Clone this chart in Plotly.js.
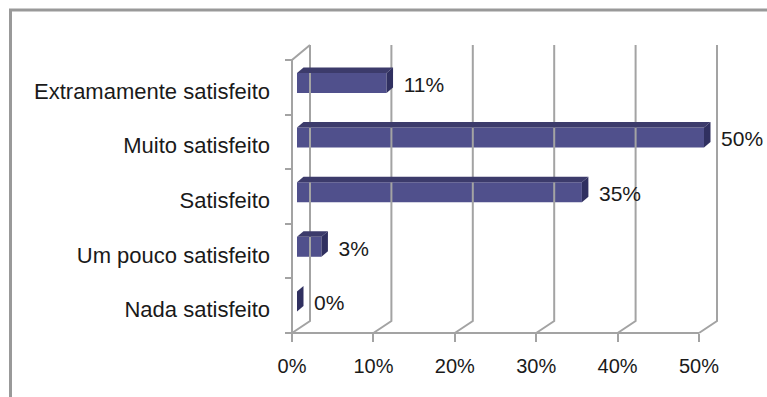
<!DOCTYPE html>
<html><head><meta charset="utf-8">
<script src="https://cdn.plot.ly/plotly-3.0.1.min.js"></script>
<style>html,body{margin:0;padding:0;background:#fff}#chart{width:767px;height:397px}</style>
</head><body><div id="chart"></div>
<script>
// Satisfaction levels, bottom to top, and their shares (%)
const categories = ['Nada satisfeito', 'Um pouco satisfeito', 'Satisfeito', 'Muito satisfeito', 'Extramamente satisfeito'];
const values = [0, 3, 35, 50, 11];
const tickValues = [0, 10, 20, 30, 40, 50];

// Layout geometry (pixels) used to set up the axes and the pseudo-3D offsets
const W = 767, H = 397;
const X0 = 292, PX_PER_PCT = 8.14;   // front floor origin and x scale
const Y0 = 333, BAND = 54.6;         // front floor baseline and category band height
const FONT = '"Liberation Sans", Arial, sans-serif';
const GRID = '#a3a3a3';
const INK = '#1a1a1a';

const wallDx = 18 / PX_PER_PCT, wallDyTop = 15 / BAND, wallDyBot = 12 / BAND;
const barShift = 5 / PX_PER_PCT;
const barLow = 0.396, barHigh = 0.762;
const depthDx = 6.5 / PX_PER_PCT, depthDy = 5.5 / BAND;
const nCat = categories.length;
const xMax = tickValues[tickValues.length - 1];

const traces = [];

// back wall gridlines running into the floor
const gx = [], gy = [];
tickValues.forEach(v => {
  gx.push(v, v + wallDx, v + wallDx, null);
  gy.push(0, wallDyBot, nCat + wallDyTop, null);
});
// front floor edge and front edge of the side wall
gx.push(0, xMax, null, 0, 0, wallDx);
gy.push(0, 0, null, 0, nCat, nCat + wallDyTop);
traces.push({type: 'scatter', mode: 'lines', x: gx, y: gy, line: {color: GRID, width: 2}, hoverinfo: 'skip'});

// front faces of the bars
traces.push({
  type: 'bar', orientation: 'h',
  x: values,
  y: categories.map((_, i) => i + (barLow + barHigh) / 2),
  width: (barHigh - barLow),
  base: barShift,
  marker: {color: '#50508c', line: {width: 0}},
  hoverinfo: 'skip'
});

// top and side faces
values.forEach((v, i) => {
  const lo = i + barLow, hi = i + barHigh;
  const x0 = barShift, x1 = barShift + v;
  if (v > 0) {
    traces.push({type: 'scatter', mode: 'lines', fill: 'toself', fillcolor: '#3c3b6b',
      x: [x0, x1, x1 + depthDx, x0 + depthDx, x0],
      y: [hi, hi, hi + depthDy, hi + depthDy, hi],
      line: {width: 0}, hoverinfo: 'skip'});
  }
  traces.push({type: 'scatter', mode: 'lines', fill: 'toself', fillcolor: '#303060',
    x: [x1, x1, x1 + depthDx, x1 + depthDx, x1],
    y: [lo, hi, hi + depthDy, lo + depthDy, lo],
    line: {width: 0}, hoverinfo: 'skip'});
});

// value labels
traces.push({
  type: 'scatter', mode: 'text',
  x: values.map(v => barShift + v + 2.1),
  y: categories.map((_, i) => i + 0.515),
  text: values.map(v => v + '%'),
  textposition: 'middle right',
  textfont: {family: FONT, size: 21, color: INK},
  hoverinfo: 'skip'
});

const layout = {
  width: W, height: H,
  margin: {l: 0, r: 0, t: 0, b: 0},
  paper_bgcolor: '#ffffff', plot_bgcolor: 'rgba(0,0,0,0)',
  showlegend: false,
  font: {family: FONT, size: 21, color: INK},
  xaxis: {
    type: 'linear',
    range: [(0 - X0) / PX_PER_PCT, (W - X0) / PX_PER_PCT],
    anchor: 'free', position: (H - Y0) / H,
    showgrid: false, zeroline: false, showline: false,
    tickmode: 'array', tickvals: tickValues, ticktext: tickValues.map(v => v + '%'),
    ticks: 'outside', ticklen: 8, tickwidth: 2, tickcolor: GRID,
    ticklabelstandoff: 7,
    tickfont: {family: FONT, size: 20, color: INK},
    fixedrange: true
  },
  yaxis: {
    type: 'linear',
    range: [(Y0 - H) / BAND, Y0 / BAND],
    anchor: 'free', position: X0 / W,
    showgrid: false, zeroline: false, showline: false,
    tickmode: 'array',
    tickvals: categories.map((_, i) => i + 0.43),
    ticktext: categories,
    ticks: '', ticklabelstandoff: 22,
    tickfont: {family: FONT, size: 22, color: INK},
    minor: {tickmode: 'array', tickvals: categories.map((_, i) => i).concat([nCat]),
            ticks: 'outside', ticklen: 7, tickwidth: 2, tickcolor: GRID},
    fixedrange: true
  },
  shapes: [{
    type: 'rect', xref: 'paper', yref: 'paper',
    x0: 10.5 / W, x1: 1.05, y0: -0.1, y1: 1 - 10 / H,
    line: {color: '#999999', width: 3}, fillcolor: 'rgba(0,0,0,0)', layer: 'below'
  }]
};

Plotly.newPlot('chart', traces, layout, {staticPlot: true, displayModeBar: false});
</script>
</body></html>
